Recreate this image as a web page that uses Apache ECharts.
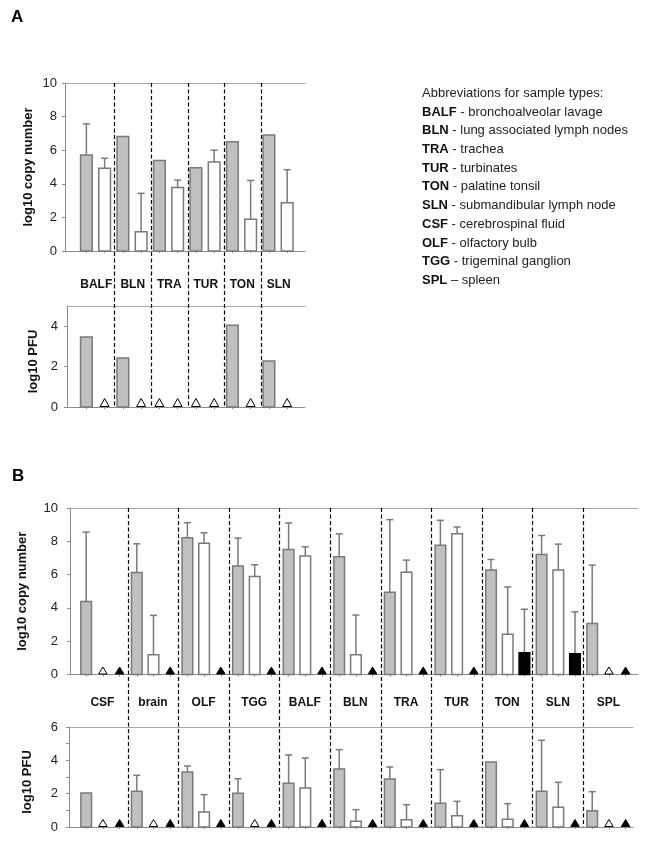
<!DOCTYPE html>
<html><head><meta charset="utf-8">
<script src="https://cdn.jsdelivr.net/npm/echarts@6/dist/echarts.min.js"></script>
<style>html,body{margin:0;padding:0;background:#fff}#c{width:649px;height:851px}</style>
</head><body><div id="c"></div>
<script>
// ---------- Panel A data ----------
const catsA = ['BALF', 'BLN', 'TRA', 'TUR', 'TON', 'SLN'];
const aCopyGray     = [5.72, 6.81, 5.38, 4.96, 6.51, 6.91];
const aCopyGrayErr  = [7.57, null, null, null, null, null];
const aCopyWhite    = [4.92, 1.14, 3.78, 5.30, 1.89, 2.87];
const aCopyWhiteErr = [5.52, 3.43, 4.22, 6.00, 4.20, 4.84];
const aPfuGray      = [3.46, 2.42, null, null, 4.05, 2.28];
const aPfuWhite     = [null, null, null, null, null, null];
const aCopyTicks = [0, 2, 4, 6, 8, 10];
const aPfuTicks  = [0, 2, 4];

// ---------- Panel B data ----------
const catsB = ['CSF', 'brain', 'OLF', 'TGG', 'BALF', 'BLN', 'TRA', 'TUR', 'TON', 'SLN', 'SPL'];
const bCopyGray     = [4.38, 6.12, 8.21, 6.51, 7.51, 7.07, 4.94, 7.77, 6.27, 7.21, 3.07];
const bCopyGrayErr  = [8.55, 7.85, 9.12, 8.19, 9.10, 8.45, 9.30, 9.26, 6.91, 8.35, 6.57];
const bCopyWhite    = [null, 1.18, 7.89, 5.88, 7.11, 1.18, 6.14, 8.45, 2.41, 6.27, null];
const bCopyWhiteErr = [null, 3.55, 8.51, 6.59, 7.67, 3.57, 6.87, 8.86, 5.26, 7.83, null];
const bCopyBlack    = [null, null, null, null, null, null, null, null, 1.31, 1.25, null];
const bCopyBlackErr = [null, null, null, null, null, null, null, null, 3.92, 3.76, null];
const bPfuGray      = [2.04, 2.14, 3.30, 2.02, 2.62, 3.48, 2.88, 1.42, 3.90, 2.14, 0.98];
const bPfuGrayErr   = [null, 3.10, 3.66, 2.90, 4.32, 4.64, 3.60, 3.44, null, 5.20, 2.12];
const bPfuWhite     = [null, null, 0.90, null, 2.34, 0.34, 0.44, 0.68, 0.46, 1.18, null];
const bPfuWhiteErr  = [null, null, 1.94, null, 4.14, 1.04, 1.34, 1.54, 1.40, 2.68, null];
const bPfuBlack     = [null, null, null, null, null, null, null, null, null, null, null];
const bCopyTicks = [0, 2, 4, 6, 8, 10];
const bPfuTicks  = [0, 2, 4, 6];

// ---------- Abbreviation list ----------
const abbrKeys  = ['BALF', 'BLN', 'TRA', 'TUR', 'TON', 'SLN', 'CSF', 'OLF', 'TGG', 'SPL'];
const abbrDescs = ['- bronchoalveolar lavage', '- lung associated lymph nodes', '- trachea', '- turbinates',
  '- palatine tonsil', '- submandibular lymph node', '- cerebrospinal fluid', '- olfactory bulb',
  '- trigeminal ganglion', '\u2013 spleen'];

// ---------- styling / layout ----------
const FONT = 'Liberation Sans, Arial, Helvetica, sans-serif';
const FILL = ['#c0c0c0', '#ffffff', '#000000'];
const EDGE = ['#7a7a7a', '#7a7a7a', '#000000'];
const AXC = '#8c8c8c';

const G = {
  aTop: {left: 65, top: 83, width: 240, height: 168},
  aPfu: {left: 67, top: 306, width: 238, height: 101},
  bTop: {left: 70, top: 508, width: 568, height: 166.5},
  bPfu: {left: 69, top: 727, width: 564, height: 100}
};
// x extent in category units (category i spans [i, i+1])
const XR = {
  aTop: [-0.356, 6.219], aPfu: [-0.301, 6.219],
  bTop: [-0.140, 11.085], bPfu: [-0.160, 10.986]
};
const SLOTS_A = [0.23, 0.73];
const SLOTS_B = [0.18, 0.51, 0.84];

function items(vals, errs, slot, kind) {
  return vals.map((v, i) => [i, v == null ? 0 : v, (errs && errs[i] != null) ? errs[i] : 0, slot, kind, v == null ? 1 : 0]);
}

function slotTicks(cats, slots) {
  const out = [];
  cats.forEach((_, i) => slots.forEach(s => out.push(i + s)));
  return out;
}

function makeRender(slots, barFrac, triW, triH) {
  return function (params, api) {
    const cat = api.value(0), v = api.value(1), err = api.value(2);
    const slot = api.value(3), kind = api.value(4), nd = api.value(5);
    const xc = cat + slots[slot];
    const base = api.coord([xc, 0]);
    if (nd) {
      return {
        type: 'polygon',
        shape: {points: [[base[0] - triW / 2, base[1] - 0.5], [base[0] + triW / 2, base[1] - 0.5], [base[0], base[1] - 0.5 - triH]]},
        style: {fill: kind === 2 ? '#000' : '#fff', stroke: '#000', lineWidth: 1}
      };
    }
    const catPx = api.size([1, 0])[0];
    const w = catPx * barFrac;
    const top = api.coord([xc, v]);
    const children = [];
    if (err > v) {
      const e = api.coord([xc, err]);
      children.push({type: 'line', shape: {x1: top[0], y1: top[1], x2: e[0], y2: e[1]}, style: {stroke: '#7a7a7a', lineWidth: 1.5}});
      children.push({type: 'line', shape: {x1: e[0] - 3.5, y1: e[1], x2: e[0] + 3.5, y2: e[1]}, style: {stroke: '#7a7a7a', lineWidth: 1.5}});
    }
    children.push({
      type: 'rect',
      shape: {x: base[0] - w / 2, y: top[1], width: w, height: base[1] - top[1]},
      style: {fill: FILL[kind], stroke: EDGE[kind], lineWidth: 1.5}
    });
    return {type: 'group', children};
  };
}

function dividerRender(bottomY) {
  return function (params, api) {
    const x = Math.round(api.coord([api.value(0), 0])[0]) + 0.5;
    return {
      type: 'line',
      shape: {x1: x, y1: params.coordSys.y, x2: x, y2: bottomY},
      style: {stroke: '#000', lineWidth: 1.2, lineDash: [4, 2.5]}
    };
  };
}

function xAxes(gi, range, pos, labels, margin, ticks) {
  const ax = {
    gridIndex: gi, type: 'value', position: pos, min: range[0], max: range[1],
    axisLine: {show: true, onZero: false, lineStyle: {color: pos === 'top' ? '#a8a8a8' : AXC, width: 1}},
    axisTick: {show: false}, splitLine: {show: false},
    axisLabel: {show: false}
  };
  if (ticks) {
    ax.axisTick = {show: true, length: 2, customValues: ticks, lineStyle: {color: AXC}};
  }
  if (labels) {
    ax.axisLabel = {
      show: true, margin: margin, fontSize: 12, fontWeight: 'bold', color: '#111', fontFamily: FONT,
      customValues: labels.map((_, i) => i + 0.5),
      formatter: (val) => labels[Math.floor(val)]
    };
  }
  return ax;
}

function yAxis(gi, ticks, max, name, nameGap, margin, extra) {
  const ax = Object.assign({
    gridIndex: gi, type: 'value', min: ticks[0], max: max, interval: ticks[1] - ticks[0],
    axisLine: {show: true, onZero: false, lineStyle: {color: AXC, width: 1}},
    axisTick: {show: true, length: 3, lineStyle: {color: AXC}},
    axisLabel: {margin: margin, fontSize: 13, color: '#222', fontFamily: FONT},
    splitLine: {show: false},
    name: name, nameLocation: 'middle', nameGap: nameGap,
    nameTextStyle: {fontWeight: 'bold', fontSize: 13, color: '#111', fontFamily: FONT}
  }, extra || {});
  return ax;
}

const rA = makeRender(SLOTS_A, 0.32, 9, 8);
const rB = makeRender(SLOTS_B, 0.21, 8.5, 7);

const option = {
  animation: false,
  backgroundColor: '#fff',
  textStyle: {fontFamily: FONT},
  title: [
    {text: 'A', left: 11, top: 9, padding: 0, textStyle: {fontSize: 17, fontWeight: 'bold', color: '#000', fontFamily: FONT}},
    {text: 'B', left: 12, top: 468, padding: 0, textStyle: {fontSize: 17, fontWeight: 'bold', color: '#000', fontFamily: FONT}},
    {
      text: ['Abbreviations for sample types:'].concat(abbrKeys.map((k, i) => '{b|' + k + '} ' + abbrDescs[i])).join('\n'),
      left: 422, top: 84, padding: 0,
      textStyle: {
        fontSize: 13, fontWeight: 'normal', color: '#222', lineHeight: 18.7, fontFamily: FONT,
        rich: {b: {fontSize: 13, fontWeight: 'bold', color: '#111', lineHeight: 18.7, fontFamily: FONT}}
      }
    }
  ],
  grid: [G.aTop, G.aPfu, G.bTop, G.bPfu],
  xAxis: [
    xAxes(0, XR.aTop, 'bottom', null, 0, slotTicks(catsA, SLOTS_A)), xAxes(0, XR.aTop, 'top'),
    xAxes(1, XR.aPfu, 'bottom', null, 0, slotTicks(catsA, SLOTS_A)), xAxes(1, XR.aPfu, 'top', catsA, 15),
    xAxes(2, XR.bTop, 'bottom', null, 0, slotTicks(catsB, SLOTS_B)), xAxes(2, XR.bTop, 'top'),
    xAxes(3, XR.bPfu, 'bottom', null, 0, slotTicks(catsB, SLOTS_B)), xAxes(3, XR.bPfu, 'top', catsB, 18)
  ],
  yAxis: [
    yAxis(0, aCopyTicks, 10, 'log10 copy number', 30, 8),
    yAxis(1, aPfuTicks, 5, 'log10 PFU', 27, 9, {axisLabel: {margin: 9, fontSize: 13, color: '#222', fontFamily: FONT, showMaxLabel: false}, nameTextStyle: {fontWeight: 'bold', fontSize: 13, color: '#111', fontFamily: FONT, padding: [0, 10, 0, 0]}}),
    yAxis(2, bCopyTicks, 10, 'log10 copy number', 41, 12),
    yAxis(3, bPfuTicks, 6, 'log10 PFU', 35, 11, {minorTick: {show: true, splitNumber: 2, length: 3, lineStyle: {color: AXC}}, nameTextStyle: {fontWeight: 'bold', fontSize: 13, color: '#111', fontFamily: FONT, padding: [0, 10, 0, 0]}})
  ],
  series: [
    {type: 'custom', xAxisIndex: 0, yAxisIndex: 0, clip: false, z: 2, encode: {x: 0, y: 1}, renderItem: rA,
      data: items(aCopyGray, aCopyGrayErr, 0, 0).concat(items(aCopyWhite, aCopyWhiteErr, 1, 1))},
    {type: 'custom', xAxisIndex: 2, yAxisIndex: 1, clip: false, z: 2, encode: {x: 0, y: 1}, renderItem: rA,
      data: items(aPfuGray, null, 0, 0).concat(items(aPfuWhite, null, 1, 1))},
    {type: 'custom', xAxisIndex: 4, yAxisIndex: 2, clip: false, z: 2, encode: {x: 0, y: 1}, renderItem: rB,
      data: items(bCopyGray, bCopyGrayErr, 0, 0).concat(items(bCopyWhite, bCopyWhiteErr, 1, 1), items(bCopyBlack, bCopyBlackErr, 2, 2))},
    {type: 'custom', xAxisIndex: 6, yAxisIndex: 3, clip: false, z: 2, encode: {x: 0, y: 1}, renderItem: rB,
      data: items(bPfuGray, bPfuGrayErr, 0, 0).concat(items(bPfuWhite, bPfuWhiteErr, 1, 1), items(bPfuBlack, null, 2, 2))},
    {type: 'custom', xAxisIndex: 0, yAxisIndex: 0, clip: false, z: 1, encode: {x: 0, y: 1},
      renderItem: dividerRender(G.aPfu.top + G.aPfu.height),
      data: catsA.slice(1).map((_, i) => [i + 1, 0])},
    {type: 'custom', xAxisIndex: 4, yAxisIndex: 2, clip: false, z: 1, encode: {x: 0, y: 1},
      renderItem: dividerRender(G.bPfu.top + G.bPfu.height),
      data: catsB.slice(1).map((_, i) => [i + 1, 0])}
  ]
};

const chart = echarts.init(document.getElementById('c'), null, {renderer: 'canvas'});
chart.setOption(option);
</script>
</body></html>
